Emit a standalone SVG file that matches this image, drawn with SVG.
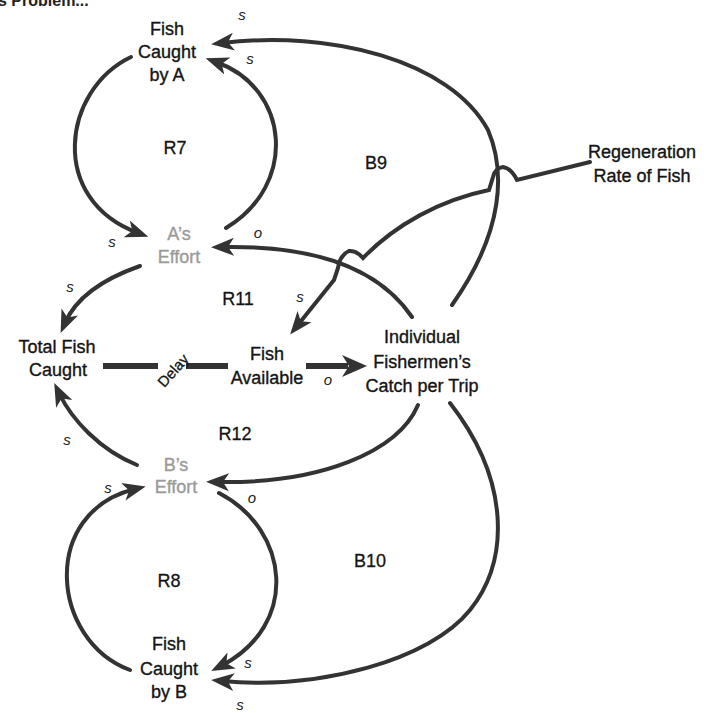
<svg xmlns="http://www.w3.org/2000/svg" width="709" height="713" viewBox="0 0 709 713">
  <style>
    .node { font-family: "Liberation Sans", "DejaVu Sans", sans-serif; font-size: 18px; fill: #141414; stroke: #141414; stroke-width: 0.35; text-anchor: middle; }
    .grey { fill: #9a9a9a; stroke: #9a9a9a; }
    .loop { font-family: "Liberation Sans", "DejaVu Sans", sans-serif; font-size: 18px; fill: #141414; stroke: #141414; stroke-width: 0.3; text-anchor: middle; }
    .pol { font-family: "Liberation Sans", "DejaVu Sans", sans-serif; font-size: 15px; font-style: italic; fill: #222; text-anchor: middle; }
    .arrow { fill: none; stroke: #333; stroke-width: 4; stroke-linecap: round; marker-end: url(#head); }
  </style>
  <defs>
    <marker id="head" markerUnits="userSpaceOnUse" markerWidth="24" markerHeight="20" viewBox="0 0 24 20" refX="12" refY="10" orient="auto">
      <path d="M0,1 L23,10 L0,19 L6,10 z" fill="#333"/>
    </marker>
  </defs>

  <rect width="709" height="713" fill="#fff"/>

  <!-- heading line running off the top edge -->
  <text x="-2" y="6" font-family="Liberation Sans, sans-serif" font-size="16" font-weight="bold" fill="#222">s Problem...</text>

  <g id="connectors">
    <!-- R7 loop -->
    <path class="arrow" d="M131,57 C 62,90 48,200 138,233"/>
    <path class="arrow" d="M226,228 C 298,185 290,88 216,62"/>
    <!-- B9: catch per trip back to fish caught by A -->
    <path class="arrow" d="M452,305 C 505,230 505,170 488,130 C 450,60 330,30 222,43"/>
    <!-- regeneration rate into fish available, hopping over crossing links -->
    <path class="arrow" d="M590,162 L517,180 Q511,168 503,167 Q495,168 493,177 L489,190 C 440,200 395,225 363,258 Q356,250 349,251 Q340,255 338,268 L334,280 L297,326"/>
    <!-- R11 -->
    <path class="arrow" d="M412,317 C 380,270 320,245 222,247"/>
    <path class="arrow" d="M140,266 C 100,280 75,300 65,323"/>
    <!-- delay link -->
    <path d="M103,366 L158,366 M186,366 L228,366" stroke="#333" stroke-width="6" fill="none"/>
    <!-- fish available to catch per trip -->
    <path d="M306,366 L348,366" stroke="#333" stroke-width="6" fill="none"/>
    <path d="M342,355 L367,366 L342,377 L349,366 z" fill="#333"/>
    <!-- R12 -->
    <path class="arrow" d="M418,405 C 398,452 320,484 217,482"/>
    <path class="arrow" d="M137,465 C 100,450 72,420 59,393"/>
    <!-- B10 -->
    <path class="arrow" d="M450,403 C 510,480 510,560 470,610 C 430,660 320,690 222,681"/>
    <!-- R8 loop -->
    <path class="arrow" d="M219,493 C 290,530 300,625 221,666"/>
    <path class="arrow" d="M130,670 C 50,640 40,512 135,489"/>
  </g>

  <g id="fish-caught-a">
    <text class="node" x="167" y="35">Fish</text>
    <text class="node" x="167" y="58">Caught</text>
    <text class="node" x="167" y="81">by A</text>
  </g>
  <g id="regeneration-rate">
    <text class="node" x="642" y="158">Regeneration</text>
    <text class="node" x="642" y="182">Rate of Fish</text>
  </g>
  <g id="a-effort">
    <text class="node grey" x="179" y="240">A’s</text>
    <text class="node grey" x="179" y="263">Effort</text>
  </g>
  <g id="total-fish-caught">
    <text class="node" x="57" y="353">Total Fish</text>
    <text class="node" x="58" y="376">Caught</text>
  </g>
  <g id="fish-available">
    <text class="node" x="267" y="360">Fish</text>
    <text class="node" x="267" y="384">Available</text>
  </g>
  <g id="catch-per-trip">
    <text class="node" x="422" y="343">Individual</text>
    <text class="node" x="422" y="368">Fishermen’s</text>
    <text class="node" x="422" y="392">Catch per Trip</text>
  </g>
  <g id="b-effort">
    <text class="node grey" x="176" y="471">B’s</text>
    <text class="node grey" x="176" y="493">Effort</text>
  </g>
  <g id="fish-caught-b">
    <text class="node" x="169" y="650">Fish</text>
    <text class="node" x="169" y="675">Caught</text>
    <text class="node" x="169" y="698">by B</text>
  </g>

  <g id="delay-label">
    <text transform="translate(177,374) rotate(-48)" font-family="Liberation Sans, sans-serif" font-size="15" fill="#141414" stroke="#141414" stroke-width="0.3" text-anchor="middle">Delay</text>
  </g>

  <g id="loop-labels">
    <text class="loop" x="175" y="154">R7</text>
    <text class="loop" x="376" y="169">B9</text>
    <text class="loop" x="238" y="305">R11</text>
    <text class="loop" x="235" y="440">R12</text>
    <text class="loop" x="169" y="587">R8</text>
    <text class="loop" x="370" y="567">B10</text>
  </g>

  <g id="polarity-labels">
    <text class="pol" x="242" y="20">s</text>
    <text class="pol" x="250" y="64">s</text>
    <text class="pol" x="112" y="247">s</text>
    <text class="pol" x="258" y="238">o</text>
    <text class="pol" x="70" y="292">s</text>
    <text class="pol" x="300" y="302">s</text>
    <text class="pol" x="328" y="385">o</text>
    <text class="pol" x="67" y="445">s</text>
    <text class="pol" x="108" y="493">s</text>
    <text class="pol" x="252" y="503">o</text>
    <text class="pol" x="248" y="668">s</text>
    <text class="pol" x="240" y="710">s</text>
  </g>
</svg>
